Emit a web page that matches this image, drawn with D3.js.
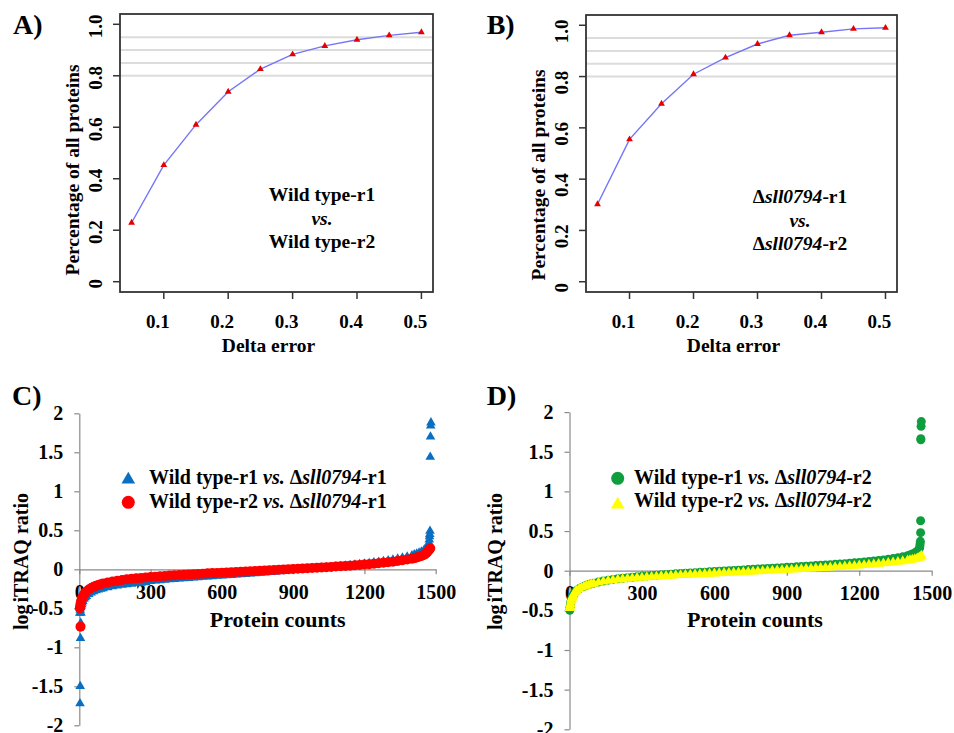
<!DOCTYPE html>
<html>
<head>
<meta charset="utf-8">
<script src="https://cdn.jsdelivr.net/npm/d3@7"></script>
<style>
  body { margin: 0; background: #fff; }
  svg { display: block; }
  #fig text { font-family: 'Liberation Serif', 'DejaVu Serif', 'Noto Serif', serif; font-weight: 700; fill: #000; }
</style>
</head>
<body>
<svg id="fig" width="954" height="733" font-family="Liberation Serif, DejaVu Serif, serif"></svg>
<script>
// ---- panels A and B: share of proteins within a delta error
const deltaError = [0.05, 0.10, 0.15, 0.20, 0.25, 0.30, 0.35, 0.40, 0.45, 0.50];
const pctWildType = [0.229, 0.453, 0.610, 0.738, 0.826, 0.883, 0.916, 0.940, 0.957, 0.969];
const pctMutant = [0.302, 0.555, 0.694, 0.809, 0.874, 0.927, 0.961, 0.973, 0.986, 0.990];
const refLines = [0.80, 0.85, 0.90, 0.95];
const pctTicks = [0, 0.2, 0.4, 0.6, 0.8, 1.0];
const pctTickLabels = ['0', '0.2', '0.4', '0.6', '0.8', '1.0'];
const deltaTicks = [0.1, 0.2, 0.3, 0.4, 0.5];

// ---- panels C and D: sorted log iTRAQ ratios
const ratioTicks = [-2, -1.5, -1, -0.5, 0, 0.5, 1, 1.5, 2];
const countTicks = [0, 300, 600, 900, 1200, 1500];

const countsC = [2, 4, 6, 8, 10, 12, 15, 20, 25, 30, 40, 50, 60, 70, 80, 90,
  100, 120, 140, 160, 180, 200, 220, 240, 260, 280,
  300, 320, 340, 360, 380, 400, 420, 440, 460, 480,
  500, 520, 540, 560, 580, 600, 620, 640, 660, 680,
  700, 720, 740, 760, 780, 800, 820, 840, 860, 880,
  900, 920, 940, 960, 980, 1000, 1020, 1040, 1060, 1080,
  1100, 1120, 1140, 1160, 1180, 1200, 1220, 1240, 1260, 1280,
  1300, 1320, 1340, 1360, 1380, 1400,
  1410, 1420, 1430, 1440, 1450, 1455, 1460, 1465, 1470];
// Wild type-r1 vs. sll0794-r1 (blue triangles)
const wt1VsR1 = [-0.56, -0.52, -0.49, -0.47, -0.45, -0.43, -0.41, -0.38, -0.36, -0.345, -0.32, -0.30, -0.285, -0.272, -0.261, -0.251,
  -0.247, -0.233, -0.221, -0.211, -0.202, -0.194, -0.187, -0.180, -0.174, -0.168,
  -0.154, -0.148, -0.142, -0.137, -0.132, -0.127, -0.122, -0.117, -0.113, -0.108,
  -0.104, -0.100, -0.095, -0.091, -0.087, -0.083, -0.079, -0.075, -0.071, -0.067,
  -0.063, -0.058, -0.053, -0.048, -0.043, -0.038, -0.033, -0.027, -0.021, -0.015,
  -0.009, -0.004, 0.000, 0.004, 0.009, 0.013, 0.018, 0.022, 0.027, 0.033,
  0.039, 0.045, 0.051, 0.058, 0.064, 0.071, 0.078, 0.086, 0.094, 0.102,
  0.111, 0.122, 0.134, 0.147, 0.161, 0.176,
  0.188, 0.198, 0.210, 0.224, 0.242, 0.255, 0.270, 0.290, 0.320];
const wt1VsR1EndCounts = [3, 4, 5, 6, 7, 1472, 1473, 1474, 1475, 1476, 1477, 1478, 1479, 1480];
const wt1VsR1EndValues = [-1.72, -1.50, -0.885, -0.69, -0.56, 0.34, 0.38, 0.42, 0.45, 0.49, 1.44, 1.70, 1.84, 1.88];
// Wild type-r2 vs. sll0794-r1 (red circles)
const wt2VsR1 = [-0.50, -0.46, -0.43, -0.41, -0.39, -0.37, -0.35, -0.32, -0.30, -0.285, -0.26, -0.24, -0.225, -0.212, -0.201, -0.191,
  -0.182, -0.168, -0.156, -0.146, -0.137, -0.129, -0.122, -0.116, -0.110, -0.104,
  -0.099, -0.094, -0.089, -0.085, -0.081, -0.077, -0.073, -0.069, -0.066, -0.062,
  -0.059, -0.056, -0.052, -0.049, -0.046, -0.043, -0.040, -0.037, -0.034, -0.031,
  -0.028, -0.025, -0.022, -0.019, -0.016, -0.013, -0.010, -0.006, -0.003, 0.000,
  0.003, 0.007, 0.010, 0.013, 0.017, 0.020, 0.024, 0.027, 0.031, 0.035,
  0.039, 0.043, 0.047, 0.052, 0.056, 0.061, 0.066, 0.072, 0.078, 0.084,
  0.091, 0.098, 0.106, 0.115, 0.125, 0.136,
  0.143, 0.151, 0.160, 0.171, 0.185, 0.195, 0.207, 0.222, 0.242];
const wt2VsR1EndCounts = [5, 1474, 1477];
const wt2VsR1EndValues = [-0.735, 0.258, 0.27];

const countsD = [2, 4, 6, 8, 10, 12, 15, 20, 25, 30, 40, 50, 60, 70, 80, 90,
  100, 120, 140, 160, 180, 200, 220, 240, 260, 280,
  300, 320, 340, 360, 380, 400, 420, 440, 460, 480,
  500, 520, 540, 560, 580, 600, 620, 640, 660, 680,
  700, 720, 740, 760, 780, 800, 820, 840, 860, 880,
  900, 920, 940, 960, 980, 1000, 1020, 1040, 1060, 1080,
  1100, 1120, 1140, 1160, 1180, 1200, 1220, 1240, 1260, 1280,
  1300, 1320, 1340, 1360, 1380, 1400,
  1410, 1420, 1430, 1440, 1445, 1450];
// Wild type-r1 vs. sll0794-r2 (green circles)
const wt1VsR2 = [-0.46, -0.42, -0.39, -0.365, -0.345, -0.33, -0.31, -0.285, -0.265, -0.25, -0.228, -0.211, -0.197, -0.185, -0.175, -0.165,
  -0.157, -0.142, -0.130, -0.119, -0.110, -0.102, -0.095, -0.088, -0.082, -0.076,
  -0.071, -0.066, -0.061, -0.056, -0.052, -0.048, -0.044, -0.040, -0.036, -0.032,
  -0.028, -0.025, -0.021, -0.018, -0.014, -0.011, -0.007, -0.004, 0.000, 0.003,
  0.007, 0.010, 0.014, 0.017, 0.021, 0.024, 0.028, 0.031, 0.035, 0.038,
  0.042, 0.045, 0.049, 0.053, 0.056, 0.060, 0.064, 0.068, 0.072, 0.076,
  0.080, 0.085, 0.089, 0.094, 0.099, 0.104, 0.110, 0.116, 0.122, 0.129,
  0.136, 0.144, 0.153, 0.163, 0.175, 0.189,
  0.198, 0.210, 0.225, 0.245, 0.260, 0.285];
const wt1VsR2EndCounts = [1, 1451, 1452, 1453, 1454, 1454, 1455, 1455, 1456, 1457];
const wt1VsR2EndValues = [-0.50, 0.31, 0.34, 0.37, 0.48, 0.63, 1.65, 1.665, 1.82, 1.88];
// Wild type-r2 vs. sll0794-r2 (yellow triangles)
const wt2VsR2 = [-0.45, -0.42, -0.39, -0.365, -0.345, -0.33, -0.31, -0.285, -0.265, -0.25, -0.23, -0.214, -0.20, -0.189, -0.179, -0.17,
  -0.162, -0.149, -0.138, -0.128, -0.120, -0.113, -0.107, -0.101, -0.096, -0.091,
  -0.086, -0.082, -0.078, -0.074, -0.070, -0.066, -0.063, -0.059, -0.056, -0.053,
  -0.050, -0.047, -0.044, -0.041, -0.038, -0.035, -0.032, -0.029, -0.026, -0.023,
  -0.020, -0.017, -0.014, -0.011, -0.008, -0.005, -0.002, 0.001, 0.004, 0.007,
  0.010, 0.013, 0.017, 0.020, 0.023, 0.027, 0.030, 0.034, 0.037, 0.041,
  0.045, 0.049, 0.053, 0.057, 0.061, 0.066, 0.070, 0.075, 0.080, 0.086,
  0.092, 0.098, 0.105, 0.112, 0.120, 0.129,
  0.134, 0.140, 0.147, 0.155, 0.160, 0.167];
const wt2VsR2EndCounts = [1, 1455, 1458];
const wt2VsR2EndValues = [-0.47, 0.178, 0.19];

const FONT = "'Liberation Serif', 'DejaVu Serif', serif";
const svg = d3.select('#fig');

const tri = size => d3.symbol().type(d3.symbolTriangle).size(size)();

// text with italic / upright runs
function richText(parent, x, y, parts, anchor, size) {
  const t = parent.append('text')
    .attr('x', x).attr('y', y)
    .attr('text-anchor', anchor)
    .style('font-family', FONT)
    .style('font-size', size + 'px')
    .style('white-space', 'pre');
  parts.forEach(p => {
    t.append('tspan').text(p[0]).style('font-style', p[1] ? 'italic' : 'normal');
  });
  return t;
}

function panelLabel(txt, x, y) {
  svg.append('text').attr('x', x).attr('y', y)
    .style('font-family', FONT).style('font-size', '28px').text(txt);
}

function drawDeltaPanel(o) {
  const x = d3.scaleLinear().domain([0.032, 0.518]).range([o.left, o.right]);
  const y = d3.scaleLinear().domain([-0.04, 1.04]).range([o.bottom, o.top]);
  const g = svg.append('g');

  g.selectAll('.ref').data(refLines).enter().append('line')
    .attr('x1', o.left).attr('x2', o.right)
    .attr('y1', d => y(d)).attr('y2', d => y(d))
    .attr('stroke', '#dcdcdc').attr('stroke-width', 2);

  g.append('rect')
    .attr('x', o.left).attr('y', o.top)
    .attr('width', o.right - o.left).attr('height', o.bottom - o.top)
    .attr('fill', 'none').attr('stroke', '#333').attr('stroke-width', 1.8);

  // y axis
  g.selectAll('.yt').data(pctTicks).enter().append('line')
    .attr('x1', o.left - 7).attr('x2', o.left)
    .attr('y1', d => y(d)).attr('y2', d => y(d))
    .attr('stroke', '#333').attr('stroke-width', 1.5);
  g.selectAll('.yl').data(pctTicks).enter().append('text')
    .attr('transform', d => 'translate(' + (o.left - 25) + ',' + (y(d) + o.labelShift) + ') rotate(-90)')
    .attr('text-anchor', 'middle').attr('dy', '0.35em')
    .style('font-family', FONT).style('font-size', '19px')
    .text((d, i) => pctTickLabels[i]);
  g.append('text')
    .attr('transform', 'translate(' + (o.left - 48) + ',' + o.titleY + ') rotate(-90)')
    .attr('text-anchor', 'middle').attr('dy', '0.35em')
    .style('font-family', FONT).style('font-size', '19.5px')
    .text('Percentage of all proteins');

  // x axis
  g.selectAll('.xt').data(deltaTicks).enter().append('line')
    .attr('x1', d => x(d)).attr('x2', d => x(d))
    .attr('y1', o.bottom).attr('y2', o.bottom + 7)
    .attr('stroke', '#333').attr('stroke-width', 1.5);
  g.selectAll('.xl').data(deltaTicks).enter().append('text')
    .attr('x', d => x(d) - 6).attr('y', 328)
    .attr('text-anchor', 'middle')
    .style('font-family', FONT).style('font-size', '19px')
    .text(d => d.toFixed(1));
  g.append('text')
    .attr('x', (o.left + o.right) / 2 - 8).attr('y', 351.5)
    .attr('text-anchor', 'middle')
    .style('font-family', FONT).style('font-size', '19.5px')
    .text('Delta error');

  // curve and markers
  const pts = deltaError.map((d, i) => [d, o.values[i]]);
  g.append('path').datum(pts)
    .attr('d', d3.line().x(d => x(d[0])).y(d => y(d[1])))
    .attr('fill', 'none').attr('stroke', '#7575f7').attr('stroke-width', 1.4);
  g.selectAll('.mk').data(pts).enter().append('path')
    .attr('d', tri(20))
    .attr('transform', d => 'translate(' + x(d[0]) + ',' + y(d[1]) + ')')
    .attr('fill', '#e50000');

  o.note.forEach((parts, i) => {
    richText(g, o.noteX, o.noteY[i], parts, 'middle', 19.5);
  });
}

function drawRatioPanel(o) {
  const x = d3.scaleLinear().domain([0, 1500]).range([o.x0, o.x1]);
  const y = d3.scaleLinear().domain([-2, 2]).range([o.yBottom, o.yTop]);
  const g = svg.append('g');
  const axisColor = '#8a8a8a';

  const yAxis = g.append('g')
    .attr('transform', 'translate(' + o.x0 + ',0)')
    .call(d3.axisLeft(y).tickValues(ratioTicks).tickSize(5).tickSizeOuter(0)
      .tickPadding(11).tickFormat(d => String(d)));
  const xAxis = g.append('g')
    .attr('transform', 'translate(0,' + y(0) + ')')
    .call(d3.axisBottom(x).tickValues(countTicks).tickSize(5).tickSizeOuter(0)
      .tickPadding(10.5).tickFormat(d => String(d)));
  [yAxis, xAxis].forEach(a => {
    a.attr('font-family', FONT).attr('font-size', 20);
    a.selectAll('path, line').attr('stroke', axisColor).attr('stroke-width', 1.2);
    a.selectAll('text').style('font-family', FONT).style('font-size', '20px').attr('fill', '#000');
  });

  g.append('text')
    .attr('x', o.titleX).attr('y', 627)
    .attr('text-anchor', 'middle')
    .style('font-family', FONT).style('font-size', '22px')
    .text('Protein counts');
  const yt = g.append('text')
    .attr('transform', 'translate(' + o.ylabX + ',561.5) rotate(-90)')
    .attr('text-anchor', 'middle')
    .style('font-family', FONT).style('font-size', '20px')
    .style('white-space', 'pre');
  yt.append('tspan').text('log');
  yt.append('tspan').attr('dx', 2).text('iTRAQ ratio');

  o.series.forEach(s => {
    const pts = s.counts.map((c, i) => [c, s.values[i]])
      .concat(s.endCounts.map((c, i) => [c, s.endValues[i]]));
    if (s.shape === 'circle') {
      g.append('g').selectAll('circle').data(pts).enter().append('circle')
        .attr('cx', d => x(d[0])).attr('cy', d => y(d[1]))
        .attr('r', s.r).attr('fill', s.color);
    } else {
      g.append('g').selectAll('path').data(pts).enter().append('path')
        .attr('d', tri(s.size))
        .attr('transform', d => 'translate(' + x(d[0]) + ',' + y(d[1]) + ')')
        .attr('fill', s.color);
    }
  });

  // legend
  o.legend.forEach(l => {
    if (l.shape === 'circle') {
      g.append('circle').attr('cx', o.legX).attr('cy', l.cy).attr('r', 6.5).attr('fill', l.color);
    } else {
      g.append('path').attr('d', tri(80))
        .attr('transform', 'translate(' + o.legX + ',' + l.cy + ')')
        .attr('fill', l.color);
    }
    richText(g, o.legTextX, l.baseline, l.text, 'start', 20);
  });
}

// ---- draw
panelLabel('A)', 13, 34);
panelLabel('B)', 486.7, 34);
panelLabel('C)', 12, 405);
panelLabel('D)', 486.7, 405);

drawDeltaPanel({
  left: 120, right: 433, top: 14, bottom: 292,
  values: pctWildType, labelShift: 2, titleY: 170,
  noteX: 322, noteY: [201, 225, 248],
  note: [
    [['Wild type-r1', false]],
    [['vs.', true]],
    [['Wild type-r2', false]]
  ]
});

drawDeltaPanel({
  left: 586, right: 897, top: 15, bottom: 292,
  values: pctMutant, labelShift: 6, titleY: 175,
  noteX: 800, noteY: [203, 227, 250],
  note: [
    [['\u0394', false], ['sll0794', true], ['-r1', false]],
    [['vs.', true]],
    [['\u0394', false], ['sll0794', true], ['-r2', false]]
  ]
});

drawRatioPanel({
  x0: 79.3, x1: 435.7, yTop: 413.3, yBottom: 725.3,
  titleX: 277.7, ylabX: 27.5,
  series: [
    { counts: countsC, values: wt1VsR1, endCounts: wt1VsR1EndCounts, endValues: wt1VsR1EndValues,
      shape: 'triangle', size: 40, color: '#0a6fc2' },
    { counts: countsC, values: wt2VsR1, endCounts: wt2VsR1EndCounts, endValues: wt2VsR1EndValues,
      shape: 'circle', r: 5, color: '#ff0000' }
  ],
  legX: 128.3, legTextX: 149,
  legend: [
    { shape: 'triangle', color: '#0a6fc2', cy: 479.5, baseline: 484.3,
      text: [['Wild type-r1 ', false], ['vs.', true], [' \u0394', false], ['sll0794', true], ['-r1', false]] },
    { shape: 'circle', color: '#ff0000', cy: 502.3, baseline: 507.7,
      text: [['Wild type-r2 ', false], ['vs.', true], [' \u0394', false], ['sll0794', true], ['-r1', false]] }
  ]
});

drawRatioPanel({
  x0: 569.5, x1: 931.7, yTop: 412.1, yBottom: 729.3,
  titleX: 755, ylabX: 501.5,
  series: [
    { counts: countsD, values: wt1VsR2, endCounts: wt1VsR2EndCounts, endValues: wt1VsR2EndValues,
      shape: 'circle', r: 4.5, color: '#0f9e3e' },
    { counts: countsD, values: wt2VsR2, endCounts: wt2VsR2EndCounts, endValues: wt2VsR2EndValues,
      shape: 'triangle', size: 45, color: '#ffff00' }
  ],
  legX: 617.7, legTextX: 634,
  legend: [
    { shape: 'circle', color: '#0f9e3e', cy: 478.3, baseline: 484,
      text: [['Wild type-r1 ', false], ['vs.', true], [' \u0394', false], ['sll0794', true], ['-r2', false]] },
    { shape: 'triangle', color: '#ffff00', cy: 504.7, baseline: 507.3,
      text: [['Wild type-r2 ', false], ['vs.', true], [' \u0394', false], ['sll0794', true], ['-r2', false]] }
  ]
});
</script>
</body>
</html>
